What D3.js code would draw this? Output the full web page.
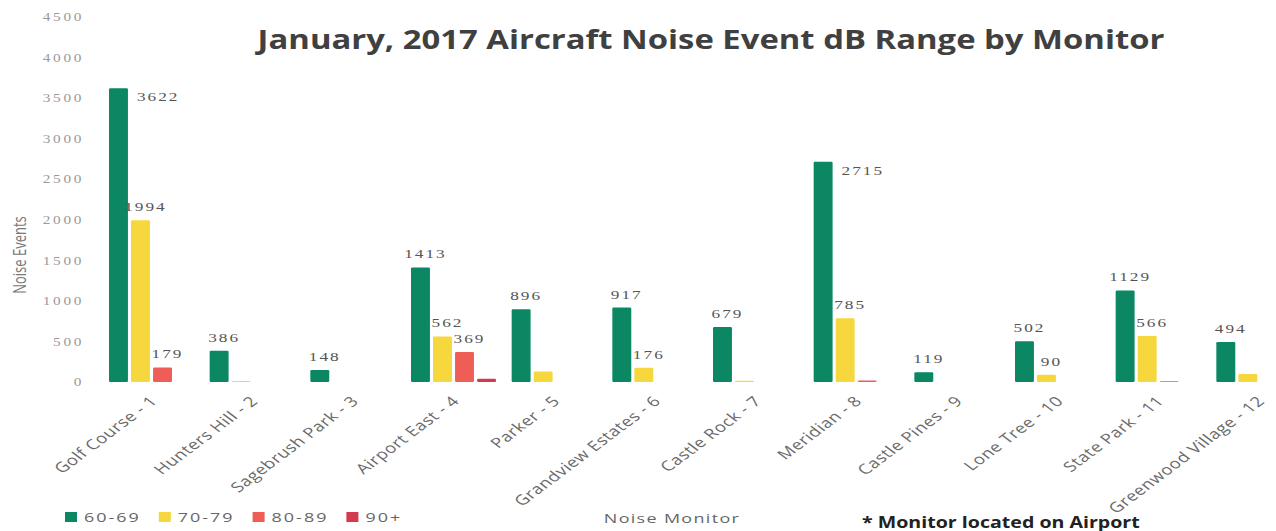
<!DOCTYPE html>
<html>
<head>
<meta charset="utf-8">
<script src="https://cdn.jsdelivr.net/npm/d3@7/dist/d3.min.js"></script>
<style>
  body { margin: 0; background: #fff; }
  svg { display: block; }
</style>
</head>
<body>
<svg id="chart_svg"></svg>
<script>
var viewWidth = 1276;
var viewHeight = 531;

// monitors and dB ranges
var monitors = ["Golf Course - 1", "Hunters Hill - 2", "Sagebrush Park - 3", "Airport East - 4",
  "Parker - 5", "Grandview Estates - 6", "Castle Rock - 7", "Meridian - 8",
  "Castle Pines - 9", "Lone Tree - 10", "State Park - 11", "Greenwood Village - 12"];
var ranges = ["60-69", "70-79", "80-89", "90+"];

var events6069 = [3622, 386, 148, 1413, 896, 917, 679, 2715, 119, 502, 1129, 494];
var events7079 = [1994, 12, 0, 562, 130, 176, 15, 785, 0, 90, 566, 100];
var events8089 = [179, 0, 0, 369, 0, 0, 0, 18, 0, 0, 10, 0];
var events90 = [0, 0, 0, 40, 0, 0, 0, 0, 0, 0, 0, 0];

// bars in the original that carry no value label: [monitor, range]
var unlabeled = [[4, 1], [11, 1]];

var yTicks = [0, 500, 1000, 1500, 2000, 2500, 3000, 3500, 4000, 4500];

var colors = {"60-69": "#0b8763", "70-79": "#f7d73e", "80-89": "#ee5d56", "90+": "#d33a4f"};

// the original picture is stretched sideways, so is the text here
var SX = 1.33;

var rows = monitors.map(function(m, i) {
  return {monitor: m, i: i, values: [events6069[i], events7079[i], events8089[i], events90[i]]};
});

var svg = d3.select("#chart_svg")
    .attr("width", viewWidth)
    .attr("height", viewHeight);

var x0 = d3.scaleBand()
  .domain(monitors)
  .range([100, 1308]);
var x1 = d3.scaleBand()
  .domain(ranges)
  .range([9, 94])
  .paddingInner(0.14);
var y = d3.scaleLinear()
  .domain([0, 4500])
  .range([382, 17]);

// y axis
var yAxis = svg.append("g")
    .attr("transform", "translate(88,0)")
    .call(d3.axisLeft(y).tickValues(yTicks).tickFormat(d3.format("d")).tickSize(0).tickPadding(3));
yAxis.select(".domain").remove();
yAxis.selectAll("text")
    .attr("transform", "scale(" + SX + ",1)")
    .style("font-family", "Liberation Serif")
    .style("font-size", "11.5px")
    .style("letter-spacing", "2px")
    .style("fill", "#9a9a9a");

// x axis
var xAxis = svg.append("g")
    .attr("transform", "translate(0,402)")
    .call(d3.axisBottom(x0).tickSize(0));
xAxis.select(".domain").remove();
xAxis.selectAll("text")
    .attr("x", 0)
    .attr("y", 0)
    .attr("dy", 0)
    .attr("transform", "translate(8,0) scale(" + SX + ",1) rotate(-45)")
    .style("text-anchor", "end")
    .style("font-family", "Open Sans")
    .style("font-size", "14px")
    .style("letter-spacing", "0.4px")
    .style("fill", "#6a6a6a");

// bars
var groups = svg.selectAll(".group")
    .data(rows)
  .enter().append("g")
    .attr("class", "group")
    .attr("transform", function(d) { return "translate(" + x0(d.monitor) + ",0)"; });

groups.selectAll("rect")
    .data(function(d) { return d.values.map(function(v, k) { return {key: ranges[k], value: v, i: d.i, k: k}; }); })
  .enter().append("rect")
    .attr("x", function(d) { return x1(d.key); })
    .attr("width", x1.bandwidth())
    .attr("y", function(d) { return y(d.value); })
    .attr("height", function(d) { return y(0) - y(d.value); })
    .attr("rx", 1.2)
    .style("fill", function(d) { return colors[d.key]; });

function hasLabel(d) {
  if (d.value < 50) return false;
  return !unlabeled.some(function(u) { return u[0] == d.i && u[1] == d.k; });
}

groups.selectAll(".label")
    .data(function(d) { return d.values.map(function(v, k) { return {key: ranges[k], value: v, i: d.i, k: k}; }).filter(hasLabel); })
  .enter().append("text")
    .attr("class", "label")
    .attr("transform", function(d) {
      var lx, ly;
      if (d.value > 2500) {
        // tall bars get the label beside the top
        lx = x1(d.key) + x1.bandwidth() + 9;
        ly = y(d.value) + 13;
      } else {
        lx = x1(d.key) + x1.bandwidth() / 2 + 5;
        ly = y(d.value) - 9;
      }
      return "translate(" + lx + "," + ly + ") scale(" + SX + ",1)";
    })
    .style("text-anchor", function(d) { return d.value > 2500 ? "start" : "middle"; })
    .style("font-family", "Liberation Serif")
    .style("font-size", "13px")
    .style("letter-spacing", "1.5px")
    .style("fill", "#555")
    .text(function(d) { return d.value; });

// title, fitted to the width it has in the original
var title = svg.append("text")
    .attr("x", 0)
    .attr("y", 0)
    .style("text-anchor", "middle")
    .style("font-family", "Open Sans")
    .style("font-weight", "bold")
    .style("font-size", "26px")
    .style("fill", "#404040")
    .text("January, 2017 Aircraft Noise Event dB Range by Monitor");
var tw = title.node().getComputedTextLength();
title.attr("transform", "translate(711,49) scale(" + (907 / tw) + ",1)");

// y axis title
svg.append("text")
    .attr("transform", "translate(26,255) scale(" + SX + ",1) rotate(-90)")
    .style("text-anchor", "middle")
    .style("font-family", "Open Sans")
    .style("font-size", "13px")
    .style("fill", "#777")
    .text("Noise Events");

// x axis title
svg.append("text")
    .attr("transform", "translate(672,523) scale(" + SX + ",1)")
    .style("text-anchor", "middle")
    .style("font-family", "Open Sans")
    .style("font-size", "13.5px")
    .style("letter-spacing", "1px")
    .style("fill", "#666")
    .text("Noise Monitor");

var note = svg.append("text")
    .attr("x", 0)
    .attr("y", 0)
    .style("font-family", "Open Sans")
    .style("font-weight", "bold")
    .style("font-size", "15.5px")
    .style("fill", "#222")
    .text("* Monitor located on Airport");
var nw = note.node().getComputedTextLength();
note.attr("transform", "translate(862,528) scale(" + (278 / nw) + ",1)");

// legend
var legend = svg.append("g")
    .attr("transform", "translate(65,0)");
var lx = 0;
ranges.forEach(function(r) {
  legend.append("rect")
      .attr("x", lx)
      .attr("y", 512)
      .attr("width", 12)
      .attr("height", 10)
      .style("fill", colors[r]);
  var t = legend.append("text")
      .attr("transform", "translate(" + (lx + 19) + ",522) scale(" + SX + ",1)")
      .style("font-family", "Open Sans")
      .style("font-size", "13.5px")
      .style("letter-spacing", "1.5px")
      .style("fill", "#666")
      .text(r);
  lx += 19 + t.node().getComputedTextLength() * SX + 18;
});
</script>
</body>
</html>
